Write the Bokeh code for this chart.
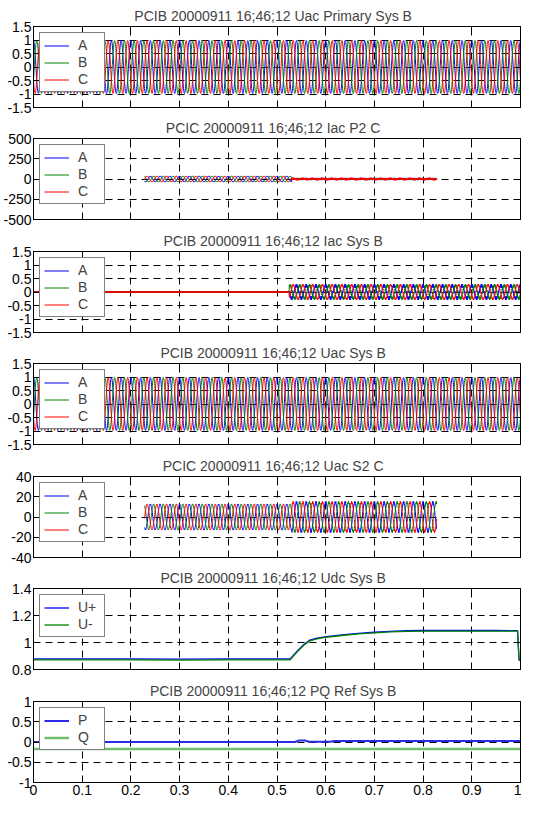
import numpy as np
from bokeh.plotting import figure
from bokeh.layouts import column
from bokeh.models import (FixedTicker, LinearAxis, Range1d, Legend, LegendItem,
                          CustomLabelingPolicy, Spacer)
from bokeh.embed import file_html
from bokeh.resources import INLINE

# ---------------- data ----------------
TITLES = [
    "PCIB 20000911 16;46;12   Uac Primary Sys B",
    "PCIC 20000911 16;46;12   Iac P2 C",
    "PCIB 20000911 16;46;12   Iac Sys B",
    "PCIB 20000911 16;46;12   Uac Sys B",
    "PCIC 20000911 16;46;12   Uac S2 C",
    "PCIB 20000911 16;46;12   Udc Sys B",
    "PCIB 20000911 16;46;12   PQ Ref Sys B",
]

X_TICKS = [0, 0.1, 0.2, 0.3, 0.4, 0.5, 0.6, 0.7, 0.8, 0.9, 1]
X_TICK_LABELS = ["0", "0.1", "0.2", "0.3", "0.4", "0.5", "0.6", "0.7", "0.8", "0.9", "1"]

Y_TICKS = [
    [-1.5, -1, -0.5, 0, 0.5, 1, 1.5],
    [-500, -250, 0, 250, 500],
    [-1.5, -1, -0.5, 0, 0.5, 1, 1.5],
    [-1.5, -1, -0.5, 0, 0.5, 1, 1.5],
    [-40, -20, 0, 20, 40],
    [0.8, 1, 1.2, 1.4],
    [-1, -0.5, 0, 0.5, 1],
]
Y_TICK_LABELS = [
    ["-1.5", "-1", "-0.5", "0", "0.5", "1", "1.5"],
    ["-500", "-250", "0", "250", "500"],
    ["-1.5", "-1", "-0.5", "0", "0.5", "1", "1.5"],
    ["-1.5", "-1", "-0.5", "0", "0.5", "1", "1.5"],
    ["-40", "-20", "0", "20", "40"],
    ["0.8", "1", "1.2", "1.4"],
    ["-1", "-0.5", "0", "0.5", "1"],
]
Y_RANGES = [(-1.5, 1.5), (-500, 500), (-1.5, 1.5), (-1.5, 1.5), (-40, 40), (0.8, 1.4), (-1, 1)]

PHASES = ["A", "B", "C"]
F_NOM = 50.0                 # Hz
PHASE_DEG = [90, -30, 210]   # A, B, C
RIPPLE_HARMONIC = 13
T_END = 1.0
DT = 0.0004

# three-phase recordings: segment start, segment end, fundamental amplitude, ripple amplitude (per phase)
UACP_T0 = [0.0]
UACP_T1 = [1.0]
UACP_AMP = [[0.98, 0.98, 0.98]]
UACP_RIP = [[0.0, 0.0, 0.0]]

IACP2_T0 = [0.228, 0.53]
IACP2_T1 = [0.53, 0.828]
IACP2_AMP = [[35, 35, 35], [6, 6, 6]]
IACP2_RIP = [[3, 3, 3], [8, 8, 12]]

IACB_T0 = [0.0, 0.525]
IACB_T1 = [0.525, 1.0]
IACB_AMP = [[0.0, 0.0, 0.0], [0.24, 0.24, 0.26]]
IACB_RIP = [[0.02, 0.02, 0.025], [0.06, 0.06, 0.04]]

UACB_T0 = [0.0]
UACB_T1 = [1.0]
UACB_AMP = [[0.98, 0.98, 0.98]]
UACB_RIP = [[0.0, 0.0, 0.0]]

UACS2_T0 = [0.228, 0.53]
UACS2_T1 = [0.53, 0.828]
UACS2_AMP = [[12.5, 12.5, 12.5], [14.5, 14.5, 14.5]]
UACS2_RIP = [[0.5, 0.5, 0.5], [1.2, 1.2, 1.2]]

# Udc Sys B
UDC_T = [0.0, 0.1, 0.2, 0.3, 0.4, 0.5, 0.527, 0.54, 0.555, 0.567, 0.58, 0.601, 0.633,
         0.667, 0.7, 0.733, 0.767, 0.8, 0.85, 0.9, 0.95, 0.994, 0.997, 1.0]
U_PLUS = [0.878, 0.878, 0.878, 0.877, 0.878, 0.878, 0.878, 0.93, 0.985, 1.017, 1.03, 1.044, 1.057,
          1.068, 1.076, 1.083, 1.087, 1.089, 1.089, 1.089, 1.089, 1.088, 0.87, 0.87]
U_MINUS = [0.872, 0.872, 0.872, 0.87, 0.872, 0.872, 0.872, 0.925, 0.98, 1.012, 1.025, 1.039, 1.052,
           1.064, 1.072, 1.079, 1.083, 1.085, 1.085, 1.085, 1.085, 1.084, 0.87, 0.87]
UDC_LABELS = ["U+", "U-"]

# PQ Ref Sys B
PQ_T = [0.0, 0.5, 0.537, 0.545, 0.557, 0.565, 0.61, 0.617, 1.0]
P_REF = [0.0, 0.0, 0.0, 0.04, 0.04, 0.005, 0.005, 0.023, 0.023]
Q_REF = [-0.17, -0.17, -0.17, -0.17, -0.17, -0.17, -0.17, -0.17, -0.17]
PQ_LABELS = ["P", "Q"]

# ---------------- styles / layout ----------------
COLORS3 = ["#0000ff", "#008000", "#ff0000"]
FONT = "Liberation Sans"
FIG_W = 521
FIG_HEIGHTS = [112, 113, 112, 113, 112, 113, 121]
BOTTOM_BORDERS = [7, 8, 7, 8, 7, 8, 16]

t = np.arange(0, T_END + DT / 2, DT)


def three_phase(t0s, t1s, amps, rips, k):
    xs, ys = [], []
    ph = np.deg2rad(PHASE_DEG[k])
    for t0, t1, a, r in zip(t0s, t1s, amps, rips):
        m = (t >= t0 - 1e-9) & (t <= t1 + 1e-9)
        tt = t[m]
        yy = a[k] * np.sin(2 * np.pi * F_NOM * tt + ph) + \
            r[k] * np.sin(2 * np.pi * F_NOM * RIPPLE_HARMONIC * tt + 3 * ph)
        xs.append(tt)
        ys.append(yy)
    return np.concatenate(xs), np.concatenate(ys)


def make_fig(i, last):
    p = figure(width=FIG_W, height=FIG_HEIGHTS[i],
               x_range=Range1d(0, 1), y_range=Range1d(*Y_RANGES[i]),
               output_backend="svg", toolbar_location=None,
               min_border_left=30, min_border_right=1, min_border_top=0,
               min_border_bottom=BOTTOM_BORDERS[i])
    p.add_layout(LinearAxis(), "right")
    p.add_layout(LinearAxis(), "above")
    p.title.text = TITLES[i]
    p.title.align = "center"
    p.title.text_font = FONT
    p.title.text_font_size = "14px"
    p.title.text_font_style = "normal"
    p.title.text_line_height = 1.0
    p.title.standoff = 6
    p.outline_line_color = "black"
    p.background_fill_color = "white"
    p.border_fill_color = "white"
    xt = FixedTicker(ticks=X_TICKS)
    yt = FixedTicker(ticks=Y_TICKS[i])
    for ax in p.xaxis:
        ax.ticker = xt
        ax.major_label_overrides = {v: s for v, s in zip(X_TICKS, X_TICK_LABELS)}
    for ax in p.yaxis:
        ax.ticker = yt
        ax.major_label_overrides = {v: s for v, s in zip(Y_TICKS[i], Y_TICK_LABELS[i])}
    for ax in p.axis:
        ax.major_tick_in = 5
        ax.major_tick_out = 0
        ax.minor_tick_line_color = None
        ax.axis_line_color = "black"
        ax.major_tick_line_color = "black"
        ax.major_label_text_font = FONT
        ax.major_label_text_font_size = "14px"
        ax.major_label_text_line_height = 1.0
        ax.major_label_text_color = "black"
        ax.major_label_standoff = 2
        ax.axis_label_standoff = 0
    hidden = [p.right[0], p.above[0]]
    if not last:
        hidden.append(p.below[0])
    for ax in hidden:
        ax.major_label_text_font_size = "0px"
        ax.major_label_standoff = 0
        ax.major_label_policy = CustomLabelingPolicy(code="return []")
    p.xgrid.ticker = xt
    p.ygrid.ticker = yt
    for g in (p.xgrid, p.ygrid):
        g.grid_line_color = "black"
        g.grid_line_dash = "7 5"
        g.grid_line_width = 1
    return p


def add_legend(p, items):
    leg = Legend(items=items, location="top_left")
    leg.label_text_font = FONT
    leg.label_text_font_size = "14px"
    leg.label_text_line_height = 1.0
    leg.border_line_color = "black"
    leg.border_line_width = 1
    leg.background_fill_alpha = 1
    leg.glyph_width = 25
    leg.glyph_height = 15
    leg.label_height = 15
    leg.label_width = 22
    leg.spacing = 1
    leg.padding = 4
    leg.margin = 6
    leg.label_standoff = 9
    p.add_layout(leg)


figs = []
three = [
    (UACP_T0, UACP_T1, UACP_AMP, UACP_RIP),
    (IACP2_T0, IACP2_T1, IACP2_AMP, IACP2_RIP),
    (IACB_T0, IACB_T1, IACB_AMP, IACB_RIP),
    (UACB_T0, UACB_T1, UACB_AMP, UACB_RIP),
    (UACS2_T0, UACS2_T1, UACS2_AMP, UACS2_RIP),
]
for i, spec in enumerate(three):
    p = make_fig(i, False)
    items = []
    for k in range(3):
        xs, ys = three_phase(*spec, k)
        r = p.line(xs, ys, line_color=COLORS3[k], line_width=1)
        items.append(LegendItem(label=PHASES[k], renderers=[r]))
    add_legend(p, items)
    figs.append(p)

p = make_fig(5, False)
r1 = p.line(UDC_T, U_PLUS, line_color="#0000ff", line_width=1.3)
r2 = p.line(UDC_T, U_MINUS, line_color="#008000", line_width=1.3)
add_legend(p, [LegendItem(label=UDC_LABELS[0], renderers=[r1]),
               LegendItem(label=UDC_LABELS[1], renderers=[r2])])
figs.append(p)

p = make_fig(6, True)
r1 = p.line(PQ_T, P_REF, line_color="#2a2ae8", line_width=2)
r2 = p.line(PQ_T, Q_REF, line_color="#6fbf6f", line_width=2.5)
add_legend(p, [LegendItem(label=PQ_LABELS[0], renderers=[r1]),
               LegendItem(label=PQ_LABELS[1], renderers=[r2])])
figs.append(p)

layout = column(Spacer(height=2, width=FIG_W), *figs, spacing=0)
open("out.html", "w").write(file_html(layout, INLINE))
